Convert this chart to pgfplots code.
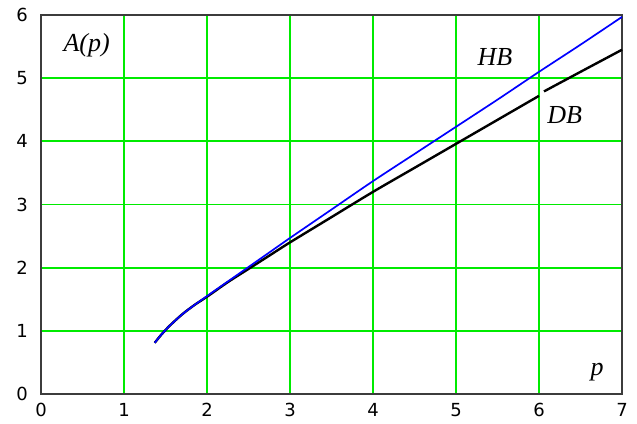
\documentclass[border=0pt]{standalone}
\usepackage{pgfplots}
\pgfplotsset{compat=1.18}
\usetikzlibrary{calc}
\usepackage{fontspec}
\setmainfont{DejaVu Sans}
\newfontfamily\labelfont{Liberation Serif}
\definecolor{gridgreen}{RGB}{0,235,0}
\definecolor{framegray}{RGB}{60,60,60}
\begin{document}
\begin{tikzpicture}[x=1pt,y=1pt]
\begin{axis}[
    scale only axis,
    width=290.5pt, height=189.5pt,
    xmin=0, xmax=7, ymin=0, ymax=6,
    xtick={0,1,...,7}, ytick={0,1,...,6},
    grid=major,
    major grid style={gridgreen, line width=0.9pt},
    major tick length=0pt,
    axis line style={framegray, line width=1pt},
    tick label style={font=\fontsize{9}{10}\selectfont},
    /pgf/number format/assume math mode=true,
    xticklabel style={yshift=-1pt},
    yticklabel style={xshift=-3pt},
    clip=false,
]
% DB
\addplot[black, line width=1.2pt, smooth] coordinates {
    (1.37,0.81) (1.45,0.94) (1.55,1.08) (1.7,1.26) (1.85,1.41) (2,1.54)
    (2.25,1.77) (2.5,1.98) (2.75,2.19) (3,2.40)
    (3.5,2.80) (4,3.20) (4.5,3.58) (5,3.96) (5.5,4.34) (6.0,4.72)
};
\addplot[black, line width=1.2pt] coordinates {
    (6.06,4.79) (6.5,5.10) (7,5.45)
};
% HB
\addplot[blue, line width=0.85pt, smooth] coordinates {
    (1.37,0.81) (1.45,0.94) (1.55,1.08) (1.7,1.26) (1.85,1.41) (2,1.55)
    (2.25,1.78) (2.5,2.01) (2.75,2.24) (3,2.47)
    (3.5,2.92) (4,3.37) (4.5,3.80) (5,4.23) (5.5,4.66) (6,5.10)
    (6.5,5.53) (7,5.97)
};
\node[font=\labelfont\itshape\fontsize{13}{14}\selectfont] at (axis cs:0.55,5.52) {A(p)};
\node[font=\labelfont\itshape\fontsize{13}{14}\selectfont] at (axis cs:5.47,5.33) {HB};
\node[font=\labelfont\itshape\fontsize{13}{14}\selectfont] at (axis cs:6.31,4.41) {DB};
\node[font=\labelfont\itshape\fontsize{13}{14}\selectfont] at (axis cs:6.70,0.35) {p};
\end{axis}
\useasboundingbox ($(current axis.south west)+(-20.5pt,-14.5pt)$) rectangle ($(current axis.north east)+(7.5pt,7.5pt)$);
\end{tikzpicture}
\end{document}
